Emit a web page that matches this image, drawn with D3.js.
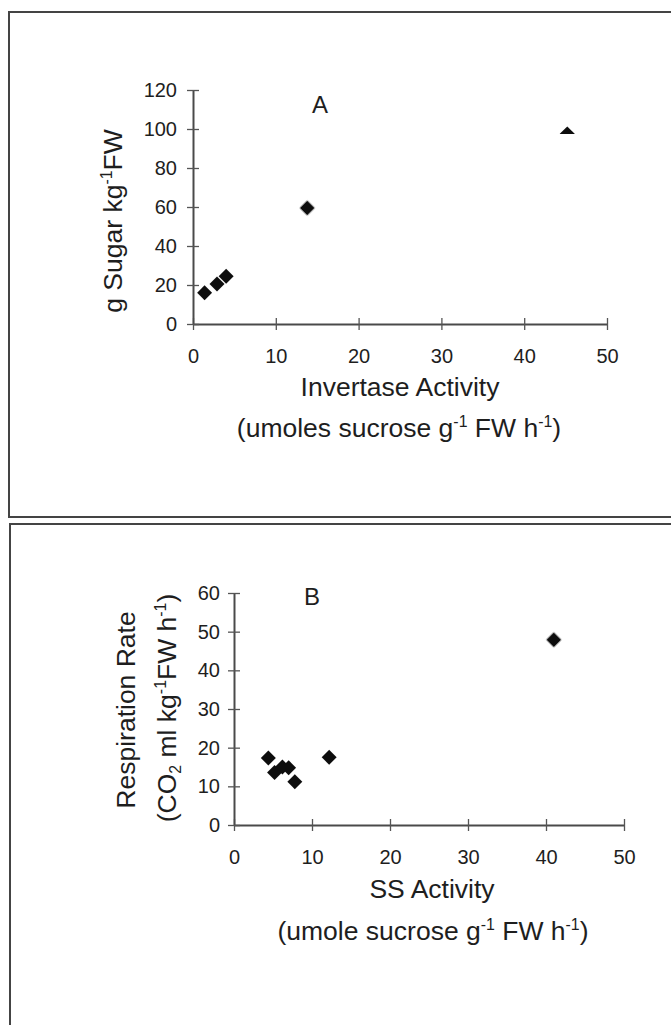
<!DOCTYPE html>
<html>
<head>
<meta charset="utf-8">
<script src="https://cdn.jsdelivr.net/npm/d3@7"></script>
<style>
  html, body { margin: 0; padding: 0; background: #fff; }
  svg { display: block; }
  text { font-family: "Liberation Sans", Arial, Helvetica, sans-serif; fill: #1e1e1e; }
</style>
</head>
<body>
<svg id="fig" width="671" height="1025"></svg>
<script>
// Panel A: invertase activity vs. sugar content
const invertaseActivity = [1.4, 2.9, 4.0, 13.8];
const sugarContent = [16, 20.5, 24.5, 59.5];
// point at the edge of the scanned frame (only its upper half survives)
const invertaseEdge = [45.2];
const sugarEdge = [97.5];
const xTicksA = [0, 10, 20, 30, 40, 50];
const yTicksA = [0, 20, 40, 60, 80, 100, 120];

// Panel B: sucrose synthase activity vs. respiration rate
const ssActivity = [4.4, 5.2, 6.2, 7.0, 7.8, 12.2, 41.0];
const respirationRate = [17.3, 13.6, 15.0, 14.8, 11.2, 17.5, 47.9];
const xTicksB = [0, 10, 20, 30, 40, 50];
const yTicksB = [0, 10, 20, 30, 40, 50, 60];

const TITLE_SIZE = 26.5;
const TICK_SIZE = 20;

const svg = d3.select("#fig");

// soft edge on the markers, like the printed figure
const defs = svg.append("defs");
defs.append("filter").attr("id", "soft")
  .append("feGaussianBlur").attr("stdDeviation", 0.6);

// panel frames
const frame = svg.append("g").attr("fill", "none").attr("stroke", "#444").attr("stroke-width", 2);
frame.append("path").attr("d", "M 680 12 H 9 V 517 H 680");
frame.append("path").attr("d", "M 680 524 H 10 V 1030");

const diamond = d3.symbol(d3.symbolSquare, 112);

function richText(sel, parts) {
  parts.forEach(p => {
    const t = sel.append("tspan").text(p.t);
    if (p.sup) { t.attr("font-size", "0.6em").attr("dy", "-0.65em"); }
    else if (p.sub) { t.attr("font-size", "0.6em").attr("dy", "0.3em"); }
    else if (p.back) { t.attr("dy", p.back); }
  });
}

function crossTicks(g, horizontal) {
  g.selectAll(".tick").append("line")
    .attr("stroke", "#555").attr("stroke-width", 1.3)
    .attr(horizontal ? "y1" : "x1", -6)
    .attr(horizontal ? "y2" : "x2", 6);
}

function panel(cfg) {
  const x = d3.scaleLinear().domain([0, 50]).range(cfg.xRange);
  const y = d3.scaleLinear().domain(cfg.yDomain).range(cfg.yRange);
  const g = svg.append("g");

  const gx = g.append("g").attr("transform", `translate(0,${y(0)})`)
    .call(d3.axisBottom(x).tickValues(cfg.xTicks).tickSize(0).tickPadding(25).tickFormat(d3.format("d")));
  const gy = g.append("g").attr("transform", `translate(${x(0)},0)`)
    .call(d3.axisLeft(y).tickValues(cfg.yTicks).tickSize(0).tickPadding(cfg.yPad).tickFormat(d3.format("d")));
  [gx, gy].forEach(a => {
    a.select(".domain").attr("stroke", "#4a4a4a").attr("stroke-width", 2);
    a.selectAll("text").attr("font-size", TICK_SIZE).attr("fill", "#1e1e1e")
      .attr("font-family", '"Liberation Sans", Arial, sans-serif');
  });
  crossTicks(gx, true);
  crossTicks(gy, false);

  // panel letter
  g.append("text").attr("x", cfg.letterPos[0]).attr("y", cfg.letterPos[1])
    .attr("text-anchor", "middle").attr("font-size", 24).text(cfg.letter);

  // axis titles
  cfg.xTitles.forEach(tt => {
    const t = g.append("text").attr("x", tt.x).attr("y", tt.y)
      .attr("text-anchor", "middle").attr("font-size", TITLE_SIZE);
    richText(t, tt.parts);
  });
  cfg.yTitles.forEach(tt => {
    const t = g.append("text")
      .attr("transform", `translate(${tt.x},${tt.y}) rotate(-90)`)
      .attr("text-anchor", "middle").attr("font-size", TITLE_SIZE);
    richText(t, tt.parts);
  });

  // markers
  const pts = d3.zip(cfg.xs, cfg.ys);
  g.append("g").attr("filter", "url(#soft)").selectAll("path").data(pts).join("path")
    .attr("d", diamond)
    .attr("fill", "#111")
    .attr("transform", d => `translate(${x(d[0])},${y(d[1])}) rotate(45)`);
  return { x, y, g };
}

const A = panel({
  xRange: [193, 607], yDomain: [0, 120], yRange: [324, 90],
  xTicks: xTicksA, yTicks: yTicksA, yPad: 16,
  letter: "A", letterPos: [320, 113],
  xs: invertaseActivity, ys: sugarContent,
  xTitles: [
    { x: 400, y: 396, parts: [{ t: "Invertase Activity" }] },
    { x: 399, y: 437, parts: [{ t: "(umoles sucrose g" }, { t: "-1", sup: true }, { t: " FW h", back: "0.39em" }, { t: "-1", sup: true }, { t: ")", back: "0.39em" }] }
  ],
  yTitles: [
    { x: 122, y: 221, parts: [{ t: "g Sugar kg" }, { t: "-1", sup: true }, { t: "FW", back: "0.39em" }] }
  ]
});

// the edge point: only the top half of its diamond is drawn
const edgeClip = defs.append("clipPath").attr("id", "edgeClip");
d3.zip(invertaseEdge, sugarEdge).forEach(d => {
  edgeClip.append("rect")
    .attr("x", A.x(d[0]) - 12).attr("y", A.y(d[1]) - 12)
    .attr("width", 24).attr("height", 12);
});
A.g.append("g").attr("clip-path", "url(#edgeClip)").append("g").attr("filter", "url(#soft)")
  .selectAll("path").data(d3.zip(invertaseEdge, sugarEdge)).join("path")
  .attr("d", diamond).attr("fill", "#111")
  .attr("transform", d => `translate(${A.x(d[0])},${A.y(d[1])}) rotate(45)`);

panel({
  xRange: [234, 624], yDomain: [0, 60], yRange: [825, 593],
  xTicks: xTicksB, yTicks: yTicksB, yPad: 14,
  letter: "B", letterPos: [312, 605],
  xs: ssActivity, ys: respirationRate,
  xTitles: [
    { x: 432, y: 898, parts: [{ t: "SS Activity" }] },
    { x: 433, y: 940, parts: [{ t: "(umole sucrose g" }, { t: "-1", sup: true }, { t: " FW h", back: "0.39em" }, { t: "-1", sup: true }, { t: ")", back: "0.39em" }] }
  ],
  yTitles: [
    { x: 135, y: 710, parts: [{ t: "Respiration Rate" }] },
    { x: 176, y: 708, parts: [{ t: "(CO" }, { t: "2", sub: true }, { t: " ml kg", back: "-0.18em" }, { t: "-1", sup: true }, { t: "FW h", back: "0.39em" }, { t: "-1", sup: true }, { t: ")", back: "0.39em" }] }
  ]
});
</script>
</body>
</html>
